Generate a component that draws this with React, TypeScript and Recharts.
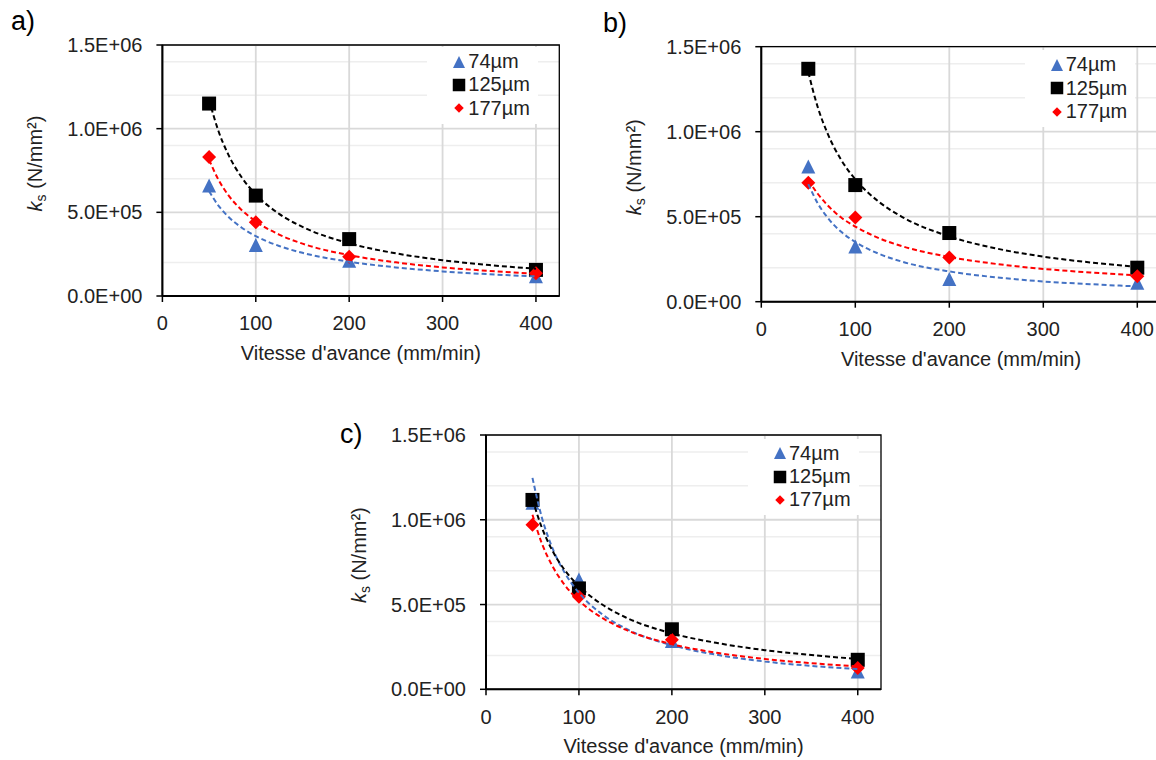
import React from "react";
import {
  ScatterChart,
  Scatter,
  XAxis,
  YAxis,
  CartesianGrid,
  ReferenceArea,
  Legend,
  Label,
} from "recharts";

const FONT = '"Liberation Sans", Arial, Helvetica, sans-serif';
const BLUE = "#4472C4";
const RED = "#FF0000";
const BLACK = "#000000";
const TEXT = "#222222";

// feed rates (mm/min)
const feeds = [50, 100, 200, 400];
const trendFeeds = [50, 60, 70, 85, 100, 125, 150, 200, 250, 300, 350, 400];
const seriesNames = ["74µm", "125µm", "177µm"];

const xTicks = [0, 100, 200, 300, 400];
const yTicks = [0, 5e5, 1e6, 1.5e6];
const yMinor = [1e5, 2e5, 3e5, 4e5, 6e5, 7e5, 8e5, 9e5, 1.1e6, 1.2e6, 1.3e6, 1.4e6];

// a)
const a74 = [6.6e5, 3.05e5, 2.1e5, 1.18e5];
const a125 = [1.15e6, 6.0e5, 3.4e5, 1.56e5];
const a177 = [8.3e5, 4.4e5, 2.35e5, 1.36e5];
const aTrend74 = [6.26e5, 5.4e5, 4.77e5, 4.08e5, 3.58e5, 2.99e5, 2.58e5, 2.05e5, 1.71e5, 1.47e5, 1.3e5, 1.17e5];
const aTrend125 = [1.172e6, 9.86e5, 8.52e5, 7.08e5, 6.07e5, 4.91e5, 4.13e5, 3.15e5, 2.55e5, 2.14e5, 1.85e5, 1.63e5];
const aTrend177 = [8.14e5, 6.95e5, 6.07e5, 5.13e5, 4.46e5, 3.67e5, 3.13e5, 2.44e5, 2.01e5, 1.71e5, 1.5e5, 1.33e5];

// b)
const b74 = [7.95e5, 3.25e5, 1.33e5, 1.12e5];
const b125 = [1.37e6, 6.86e5, 4.04e5, 2.0e5];
const b177 = [7.0e5, 4.95e5, 2.6e5, 1.5e5];
const bTrend74 = [6.92e5, 5.79e5, 4.98e5, 4.11e5, 3.51e5, 2.82e5, 2.35e5, 1.78e5, 1.43e5, 1.19e5, 1.03e5, 9.0e4];
const bTrend125 = [1.35e6, 1.145e6, 9.96e5, 8.34e5, 7.2e5, 5.88e5, 4.98e5, 3.84e5, 3.13e5, 2.65e5, 2.31e5, 2.05e5];
const bTrend177 = [7.15e5, 6.35e5, 5.7e5, 4.95e5, 4.42e5, 3.74e5, 3.26e5, 2.63e5, 2.22e5, 1.93e5, 1.72e5, 1.55e5];

// c)
const c74 = [1.1e6, 6.47e5, 2.85e5, 1.05e5];
const c125 = [1.117e6, 5.95e5, 3.54e5, 1.74e5];
const c177 = [9.7e5, 5.46e5, 2.93e5, 1.25e5];
const cTrend74 = [1.247e6, 1.015e6, 8.53e5, 6.84e5, 5.69e5, 4.42e5, 3.59e5, 2.6e5, 2.02e5, 1.64e5, 1.38e5, 1.19e5];
const cTrend125 = [1.12e6, 9.55e5, 8.33e5, 7.01e5, 6.09e5, 5.0e5, 4.25e5, 3.3e5, 2.72e5, 2.31e5, 2.02e5, 1.79e5];
const cTrend177 = [1.03e6, 8.62e5, 7.42e5, 6.13e5, 5.23e5, 4.21e5, 3.52e5, 2.66e5, 2.14e5, 1.79e5, 1.54e5, 1.35e5];

const toPoints = (xs: number[], ys: number[]) => xs.map((x, i) => ({ x, y: ys[i] }));

// Excel style "1.5E+06"
const sci = (v: number) => {
  const [m, e] = v.toExponential(1).split("e");
  return `${m}E${e[0]}${e.slice(1).padStart(2, "0")}`;
};

const triangle = (cx: number, cy: number, s: number, color: string) => (
  <path d={`M${cx},${cy - s / 2}L${cx + s / 2},${cy + s / 2}L${cx - s / 2},${cy + s / 2}Z`} fill={color} />
);
const square = (cx: number, cy: number, s: number, color: string) => (
  <rect x={cx - s / 2} y={cy - s / 2} width={s} height={s} fill={color} />
);
const diamond = (cx: number, cy: number, s: number, color: string) => (
  <path d={`M${cx},${cy - s / 2}L${cx + s / 2},${cy}L${cx},${cy + s / 2}L${cx - s / 2},${cy}Z`} fill={color} />
);

const markers = [
  (cx: number, cy: number, s: number) => triangle(cx, cy, s, BLUE),
  (cx: number, cy: number, s: number) => square(cx, cy, s, BLACK),
  (cx: number, cy: number, s: number) => diamond(cx, cy, s, RED),
];
const legendSizes = [12, 12.5, 9.5];
const colors = [BLUE, BLACK, RED];

interface PanelProps {
  letter: string;
  letterPos: [number, number];
  left: number;
  top: number;
  width: number;
  height: number;
  margin: { top: number; right: number; bottom: number; left: number };
  yWidth: number;
  legendPos: [number, number];
  values: number[][];
  trends: number[][];
}

function LegendBox() {
  return (
    <div
      style={{
        background: "#fff",
        padding: "3px 8px 4px 25px",
        fontFamily: FONT,
        fontSize: 20,
        color: TEXT,
      }}
    >
      {seriesNames.map((name, i) => (
        <div key={name} style={{ display: "flex", alignItems: "center", height: 23.3 }}>
          <svg width={14} height={14} style={{ display: "block" }}>
            {markers[i](7, 7, legendSizes[i])}
          </svg>
          <span style={{ marginLeft: 2, whiteSpace: "nowrap" }}>{name}</span>
        </div>
      ))}
    </div>
  );
}

function Panel(p: PanelProps) {
  const plotLeft = p.margin.left + p.yWidth;
  const plotTop = p.margin.top;
  const plotBottom = p.height - p.margin.bottom - 60;
  const plotRight = p.width - p.margin.right;
  const midY = (plotTop + plotBottom) / 2 - 7;
  const midX = (plotLeft + plotRight) / 2;
  const titleX = plotLeft - 127;

  return (
    <>
      <div
        style={{
          position: "absolute",
          left: p.letterPos[0],
          top: p.letterPos[1],
          fontFamily: FONT,
          fontSize: 27,
          lineHeight: "27px",
          color: "#000",
        }}
      >
        {p.letter}
      </div>
      <div style={{ position: "absolute", left: p.left, top: p.top }}>
        <ScatterChart width={p.width} height={p.height} margin={p.margin}>
          <CartesianGrid
            horizontalValues={yMinor}
            vertical={false}
            stroke="#eeeeee"
            strokeWidth={1.5}
          />
          <CartesianGrid
            horizontalValues={yTicks}
            verticalValues={xTicks}
            stroke="#d9d9d9"
            strokeWidth={1.8}
          />
          <ReferenceArea
            x1={0}
            x2={425}
            y1={0}
            y2={1.5e6}
            fill="none"
            stroke="#000"
            strokeWidth={1.3}
          />
          <XAxis
            type="number"
            dataKey="x"
            domain={[0, 425]}
            ticks={xTicks}
            height={60}
            axisLine={{ stroke: "#000", strokeWidth: 2 }}
            tickLine={{ stroke: "#000", strokeWidth: 1.5 }}
            tickSize={6}
            tickMargin={14}
            tick={{ fontSize: 20, fill: TEXT, fontFamily: FONT }}
          >
            <Label
              content={() => (
                <text
                  x={midX}
                  y={plotBottom + 64}
                  textAnchor="middle"
                  fontSize={20}
                  fontFamily={FONT}
                  fill={TEXT}
                >
                  Vitesse d'avance (mm/min)
                </text>
              )}
            />
          </XAxis>
          <YAxis
            type="number"
            dataKey="y"
            domain={[0, 1.5e6]}
            ticks={yTicks}
            width={p.yWidth}
            tickFormatter={sci}
            axisLine={{ stroke: "#000", strokeWidth: 2 }}
            tickLine={{ stroke: "#000", strokeWidth: 1.5 }}
            tickSize={6}
            tickMargin={14}
            tick={{ fontSize: 20, fill: TEXT, fontFamily: FONT }}
          >
            <Label
              content={() => (
                <text
                  x={titleX}
                  y={midY}
                  dy="0.35em"
                  transform={`rotate(-90, ${titleX}, ${midY})`}
                  textAnchor="middle"
                  fontSize={20}
                  fontFamily={FONT}
                  fill={TEXT}
                >
                  <tspan fontStyle="italic">k</tspan>
                  <tspan fontSize={14} dy={4}>s</tspan>
                  <tspan dy={-4}> (N/mm²)</tspan>
                </text>
              )}
            />
          </YAxis>
          <Legend
            layout="vertical"
            align="center"
            verticalAlign="middle"
            wrapperStyle={{ left: p.legendPos[0], top: p.legendPos[1], width: "auto" }}
            content={() => <LegendBox />}
          />
          {p.values.map((vals, i) => (
            <Scatter
              key={`pts-${i}`}
              name={seriesNames[i]}
              data={toPoints(feeds, vals)}
              isAnimationActive={false}
              shape={(sp: any) => markers[i](sp.cx, sp.cy, 14)}
            />
          ))}
          {p.trends.map((vals, i) => (
            <Scatter
              key={`trend-${i}`}
              name={`trend-${i}`}
              legendType="none"
              data={toPoints(trendFeeds, vals)}
              isAnimationActive={false}
              line={{ stroke: colors[i], strokeWidth: 2, strokeDasharray: "5 3" }}
              lineJointType="monotoneX"
              shape={() => <g />}
            />
          ))}
        </ScatterChart>
      </div>
    </>
  );
}

export default function App() {
  return (
    <div
      style={{
        position: "absolute",
        left: 0,
        top: 0,
        width: 1156,
        height: 760,
        overflow: "hidden",
        background: "#fff",
      }}
    >
      <Panel
        letter="a)"
        letterPos={[11, 8]}
        left={0}
        top={0}
        width={580}
        height={380}
        margin={{ top: 45, right: 20.7, bottom: 24, left: 10 }}
        yWidth={152.4}
        legendPos={[427.3, 47]}
        values={[a74, a125, a177]}
        trends={[aTrend74, aTrend125, aTrend177]}
      />
      <Panel
        letter="b)"
        letterPos={[603, 10]}
        left={600}
        top={0}
        width={580}
        height={380}
        margin={{ top: 46.7, right: 19.2, bottom: 18.3, left: 10 }}
        yWidth={151.3}
        legendPos={[424.7, 50.3]}
        values={[b74, b125, b177]}
        trends={[bTrend74, bTrend125, bTrend177]}
      />
      <Panel
        letter="c)"
        letterPos={[340, 421]}
        left={320}
        top={390}
        width={580}
        height={370}
        margin={{ top: 45, right: 19, bottom: 10.7, left: 10 }}
        yWidth={156}
        legendPos={[428, 48.6]}
        values={[c74, c125, c177]}
        trends={[cTrend74, cTrend125, cTrend177]}
      />
    </div>
  );
}
